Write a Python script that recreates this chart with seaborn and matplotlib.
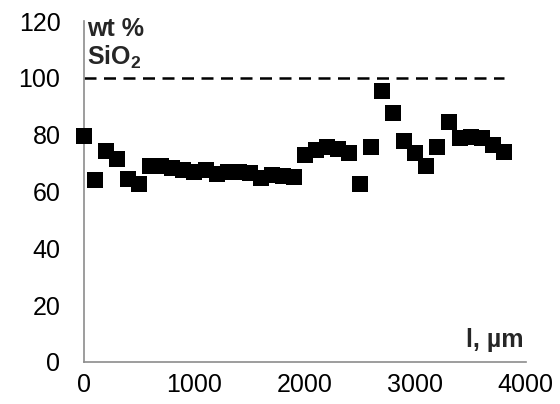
import numpy as np
import pandas as pd
import matplotlib
matplotlib.use("Agg")
import matplotlib.pyplot as plt
import seaborn as sns

# Data
distance_um = [0, 100, 200, 300, 400, 500, 600, 700, 800, 900,
               1000, 1100, 1200, 1300, 1400, 1500, 1600, 1700, 1800, 1900,
               2000, 2100, 2200, 2300, 2400, 2500, 2600, 2700, 2800, 2900,
               3000, 3100, 3200, 3300, 3400, 3500, 3600, 3700, 3800]
sio2_wt = [79.7, 64.2, 74.3, 71.6, 64.4, 62.8, 68.8, 69.1, 68.1, 67.6,
           66.9, 67.6, 66.2, 67.0, 67.0, 66.4, 64.8, 65.7, 65.4, 65.0,
           73.0, 74.6, 75.5, 74.9, 73.7, 62.8, 75.8, 95.3, 87.8, 77.7,
           73.5, 68.9, 75.5, 84.6, 78.8, 79.3, 79.0, 76.3, 74.0]
reference_level = 100

df = pd.DataFrame({"l": distance_um, "SiO2": sio2_wt})

sns.set_style("white")
plt.rcParams["font.family"] = ["Liberation Sans", "DejaVu Sans"]
plt.rcParams["mathtext.fontset"] = "custom"
plt.rcParams["mathtext.rm"] = "Liberation Sans"
plt.rcParams["mathtext.bf"] = "Liberation Sans:bold"

fig = plt.figure(figsize=(5.6, 4.04), dpi=100)
ax = fig.add_axes([0.15, 0.104, 0.789, 0.844])

# reference line at 100 %
ax.hlines(reference_level, min(distance_um), max(distance_um),
          colors="black", linewidth=1.8, linestyles=(0, (4.8, 3.0)), zorder=1)

sns.scatterplot(data=df, x="l", y="SiO2", marker="s", s=120, color="black",
                linewidth=0, ax=ax, zorder=3, clip_on=False)

ax.set_xlim(0, 4000)
ax.set_ylim(0, 120)
ax.set_xticks(np.arange(0, 4001, 1000))
ax.set_yticks(np.arange(0, 121, 20))
ax.set_xticks(np.arange(0, 4001, 200), minor=True)
ax.set_yticks(np.arange(0, 121, 4), minor=True)
ax.set_xlabel("")
ax.set_ylabel("")

for side in ["top", "right"]:
    ax.spines[side].set_visible(False)
for side in ["left", "bottom"]:
    ax.spines[side].set_color("#8c8c8c")
    ax.spines[side].set_linewidth(1.2)

ax.tick_params(axis="both", which="both", direction="out", color="#8c8c8c",
               width=1.2, labelsize=18, labelcolor="black")
ax.tick_params(axis="y", which="major", length=6, pad=11)
ax.tick_params(axis="y", which="minor", length=4.5)
ax.tick_params(axis="x", which="major", length=5.5, pad=2.5)
ax.tick_params(axis="x", which="minor", length=4.5)

ax.text(30, 114.8, "wt %", fontsize=18, fontweight="bold", ha="left", va="baseline")
ax.text(30, 104.6, r"SiO$_\mathbf{2}$", fontsize=18, fontweight="bold",
        ha="left", va="baseline")
ax.text(3975, 5.4, "l, µm", fontsize=18, fontweight="bold", ha="right", va="baseline")

fig.savefig("out.png", dpi=100)
